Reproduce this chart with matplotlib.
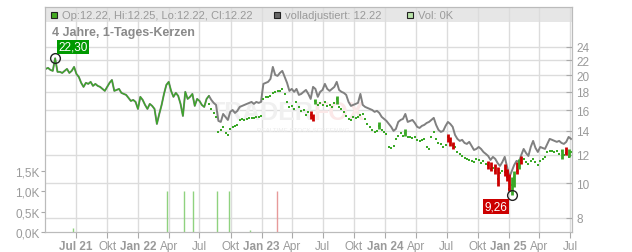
import pandas as pd
import matplotlib.pyplot as plt
from matplotlib.patches import Rectangle
from matplotlib.ticker import NullLocator

plt.rcParams['font.family'] = ['Liberation Sans', 'DejaVu Sans']

# weekly values, first week 2021-04-02
week_start = '2021-04-02'

# volladjustiert (grey line)
adj_close = [
    20.83, 20.97, 20.70, 20.57, 22.30, 20.44, 20.44, 20.30, 20.57, 20.83,
    20.30, 20.57, 21.10, 20.17, 19.79, 19.05, 18.56, 19.05, 18.92, 19.17,
    18.68, 18.92, 18.68, 18.56, 18.32, 18.09, 18.56, 19.05, 19.40, 18.09,
    18.20, 18.32, 17.86, 17.74, 17.63, 17.30, 16.96, 17.07, 16.85, 16.11,
    17.41, 17.07, 16.53, 16.11, 16.64, 16.43, 16.11, 14.63, 15.60, 16.53,
    17.74, 18.80, 19.17, 18.09, 17.41, 17.86, 17.52, 16.64, 15.40, 17.98,
    17.18, 17.41, 17.74, 16.43, 17.18, 16.96, 16.53, 16.32, 17.18, 17.52,
    17.07, 16.75, 16.53, 14.92, 14.82, 15.60, 15.31, 15.01, 15.81, 16.00,
    15.70, 15.91, 16.32, 16.43, 16.53, 16.64, 16.75, 16.85, 16.64, 16.85,
    16.75, 16.85, 18.92, 19.05, 19.17, 19.54, 21.10, 20.04, 19.92, 20.30,
    20.57, 19.79, 19.05, 18.09, 18.32, 17.98, 18.32, 17.63, 17.74, 17.98,
    18.20, 17.74, 17.18, 18.56, 18.32, 17.41, 17.98, 18.20, 18.92, 18.32,
    18.09, 18.32, 18.56, 19.17, 18.20, 17.98, 17.86, 17.63, 16.85, 16.43,
    16.53, 16.64, 16.75, 17.74, 16.53, 16.32, 16.21, 16.11, 16.00, 15.81,
    15.91, 15.70, 15.31, 15.11, 14.92, 14.63, 14.36, 13.99, 14.17, 14.82,
    15.01, 15.11, 15.60, 14.82, 14.92, 15.01, 14.72, 14.36, 14.26, 14.45,
    14.54, 14.72, 14.82, 15.01, 15.21, 14.54, 14.08, 13.90, 13.99, 14.45,
    14.82, 14.63, 14.36, 13.63, 13.29, 13.12, 13.21, 12.95, 12.87, 13.04,
    12.70, 12.38, 12.46, 12.62, 12.46, 12.22, 12.07, 11.91, 11.61, 11.84,
    11.69, 11.38, 11.17, 11.46, 11.84, 11.10, 10.41, 10.82, 11.24, 11.54,
    11.46, 11.99, 12.46, 12.14, 11.91, 12.62, 13.12, 12.54, 12.22, 12.62,
    12.54, 12.46, 12.87, 13.29, 13.21, 13.12, 13.04, 13.12, 12.95, 12.87,
    13.04, 13.46, 13.29,
]

# candles: same as adj. up to week 69, after that own closes
split_week = 69
close_late = [
    16.64, 16.11, 15.70, 15.31, 13.90, 14.08, 14.36, 13.81, 13.63, 14.17,
    14.36, 14.45, 14.54, 15.01, 15.11, 15.01, 15.11, 15.21, 15.21, 15.21,
    15.31, 15.31, 15.40, 17.18, 17.41, 17.41, 17.52, 17.86, 17.98, 18.09,
    18.09, 18.32, 17.74, 16.85, 16.32, 16.43, 16.11, 16.85, 16.32, 15.91,
    16.00, 15.50, 15.81, 15.50, 15.31, 16.96, 16.53, 16.75, 16.53, 16.85,
    16.43, 16.53, 16.32, 16.75, 17.18, 16.32, 16.11, 15.81, 15.40, 15.11,
    15.01, 15.31, 15.21, 15.31, 15.50, 15.60, 15.11, 14.63, 14.36, 14.08,
    13.90, 13.99, 14.45, 14.08, 13.90, 13.72, 12.62, 12.54, 12.70, 13.29,
    13.55, 13.81, 13.55, 13.81, 13.46, 13.46, 13.38, 13.46, 13.21, 13.12,
    13.21, 13.29, 12.62, 12.46, 13.46, 13.90, 13.29, 12.95, 12.87, 12.62,
    12.79, 13.46, 13.12, 12.79, 12.62, 12.22, 12.07, 11.91, 11.76, 11.69,
    11.61, 11.54, 11.46, 11.69, 11.61, 11.38, 11.54, 11.31, 11.24, 10.96,
    11.03, 10.82, 10.27, 10.68, 10.82, 10.75, 10.41, 9.64, 9.88, 10.41,
    10.82, 11.10, 11.54, 11.69, 11.46, 11.31, 11.54, 11.69, 11.46, 11.24,
    11.54, 11.69, 11.84, 12.22, 12.30, 12.30, 12.22, 12.30, 12.07, 12.30,
    11.99, 12.14, 11.84, 12.22,
]

# visible candle bodies (week index, low, high, up?)
bar_week = [112, 113, 114, 123, 141, 152, 170, 171, 172, 187, 188, 190,
            191, 194, 195, 196, 197, 198, 199, 200, 201, 218, 220, 221]
bar_lo = [15.11, 14.92, 16.64, 16.64, 14.17, 13.55, 13.04, 12.70, 12.46, 10.96, 10.82, 10.61,
          9.82, 10.48, 10.15, 9.52, 9.26, 9.76, 10.61, 10.96, 11.31, 11.69, 11.99, 11.84]
bar_hi = [15.91, 15.60, 17.18, 17.52, 14.82, 14.17, 13.72, 13.46, 13.04, 11.54, 11.46, 11.31,
          11.10, 11.31, 10.96, 10.61, 10.41, 10.82, 11.46, 11.69, 11.91, 12.46, 12.62, 12.46]
bar_up = [0, 0, 1, 1, 1, 1, 0, 0, 0, 0, 0, 0, 0, 0, 0, 0, 1, 1, 0, 1, 0, 1, 0, 1]

vol_dates = ['2021-06-21', '2022-03-26', '2022-05-16', '2022-06-11',
             '2022-08-21', '2022-09-26', '2022-11-27', '2023-02-15']
vol = [90, 1000, 1000, 1000, 1000, 1000, 40, 1000]
vol_up = [1, 1, 1, 1, 1, 1, 1, 0]

price_ticks = [8, 10, 12, 14, 16, 18, 20, 22, 24]
vol_ticks = [0, 500, 1000, 1500]
vol_labels = ['0,0K', '0,5K', '1,0K', '1,5K']
month_names = {1: 'Jan', 4: 'Apr', 7: 'Jul', 10: 'Okt'}

GREEN = '#3aa827'
RED = '#cc0000'
GREY_TXT = '#9a9a9a'

dates = pd.date_range(week_start, periods=len(adj_close), freq='7D')

fig = plt.figure(figsize=(6.32, 2.53), dpi=100)
L, R, T, B = 45, 572, 8, 233
ax = fig.add_axes([L / 632, 1 - B / 253, (R - L) / 632, (B - T) / 253])
axv = ax.twinx()
ax.yaxis.tick_right()
axv.yaxis.tick_left()

# price panel
ax.set_yscale('log')
ax.set_ylim(7.31, 31.0)
ax.set_xlim(pd.Timestamp('2021-03-31'), pd.Timestamp('2025-07-07'))
ax.set_yticks(price_ticks)
ax.set_yticklabels([str(v) for v in price_ticks])
ax.yaxis.set_minor_locator(NullLocator())
ax.set_axisbelow(True)
ax.grid(True, color='#dcdcdc', lw=1)

xt = pd.date_range('2021-07-01', '2025-07-01', freq='QS')
xl = []
for k, t in enumerate(xt):
    s = month_names[t.month]
    if t.month == 1 or k == 0:
        s += ' %02d' % (t.year % 100)
    xl.append(s)
ax.set_xticks(xt)
ax.set_xticklabels(xl)
for k, (lab, t) in enumerate(zip(ax.get_xticklabels(), xt)):
    if t.month == 1 or k == 0:
        lab.set_fontweight('bold')

ax.tick_params(axis='x', direction='out', length=4, color='#aaaaaa',
               labelcolor=GREY_TXT, labelsize=8.5, pad=2)
ax.tick_params(axis='y', direction='in', length=4, color='#aaaaaa',
               labelcolor=GREY_TXT, labelsize=8.5, pad=3)
for sp in ax.spines.values():
    sp.set_color('#bbbbbb')
for sp in axv.spines.values():
    sp.set_color('#bbbbbb')

# header band
ax.add_patch(Rectangle((0, 1 - 15 / 225), 1, 15 / 225, transform=ax.transAxes,
                       fc='#e6e6e6', ec='none', zorder=0.2))

# watermark
ax.text(0.51, 0.535, 'TRADER', transform=ax.transAxes, ha='right', va='center',
        fontsize=18, fontweight='bold', color='#f0f0f0', zorder=1)
ax.text(0.51, 0.535, 'FOX', transform=ax.transAxes, ha='left', va='center',
        fontsize=18, fontweight='bold', color='#fbe8e8', zorder=1)
ax.text(0.49, 0.455, 'REALTIME STOCK SCREENING', transform=ax.transAxes, ha='center',
        va='center', fontsize=4.5, color='#ececec', zorder=1)

# lines
ax.plot(dates, adj_close, color='#808080', lw=1.4, zorder=3)
ax.plot(dates[:split_week + 1], adj_close[:split_week + 1], color=GREEN, lw=0.9, zorder=4)
ax.plot(dates[split_week:], close_late, ls='none', marker='s', ms=1.6, mew=0,
        color=GREEN, zorder=4)
bx = dates[bar_week]
bc = [GREEN if u else RED for u in bar_up]
ax.vlines(bx, bar_lo, bar_hi, colors=bc, lw=2, zorder=5)

# high / low markers
i_max = adj_close.index(max(adj_close))
ax.plot(dates[i_max], adj_close[i_max], 'o', mfc='none', mec='#222222', ms=7, mew=1, zorder=6)
ax.annotate(('%.2f' % adj_close[i_max]).replace('.', ','), xy=(dates[i_max], adj_close[i_max]),
            xytext=(3.5, 5.5), textcoords='offset pixels', ha='left', va='bottom',
            color='white', fontsize=8.5, zorder=7,
            bbox=dict(boxstyle='square,pad=0.1', fc='#009900', ec='none'))
i_min = bar_lo.index(min(bar_lo))
ax.plot(bx[i_min], bar_lo[i_min], 'o', mfc='none', mec='#222222', ms=7, mew=1, zorder=6)
ax.annotate(('%.2f' % bar_lo[i_min]).replace('.', ','), xy=(bx[i_min], bar_lo[i_min]),
            xytext=(-4.5, -5.5), textcoords='offset pixels', ha='right', va='top',
            color='white', fontsize=8.5, zorder=7,
            bbox=dict(boxstyle='square,pad=0.1', fc=RED, ec='none'))

# volume panel
axv.set_ylim(0, 5488)
axv.set_yticks(vol_ticks)
axv.set_yticklabels(vol_labels)
axv.vlines(pd.to_datetime(vol_dates), 0, vol,
           colors=['#8fd27f' if u else '#e79a9a' for u in vol_up], lw=1)
axv.tick_params(axis='y', direction='out', length=3, color='#aaaaaa',
                labelcolor=GREY_TXT, labelsize=8.5, pad=1)

# header legend
hy = 1 - 16 / 253
items = [(51, '#44aa22', 'Op:12.22, Hi:12.25, Lo:12.22, Cl:12.22'),
         (274, '#666666', 'volladjustiert: 12.22'),
         (407, '#b8e2a8', 'Vol: 0K')]
for px, col, txt in items:
    fig.add_artist(Rectangle((px / 632, 1 - 19 / 253), 6 / 632, 6 / 253,
                             transform=fig.transFigure, fc=col, ec='#222222', lw=0.8))
    fig.text((px + 11) / 632, hy, txt, ha='left', va='center', fontsize=8, color=GREY_TXT)

fig.text(52.5 / 632, 1 - 33 / 253, '4 Jahre, 1-Tages-Kerzen', ha='left', va='center',
         fontsize=9, fontweight='bold', color='#8a8a8a')

fig.savefig('out.png', dpi=100)
